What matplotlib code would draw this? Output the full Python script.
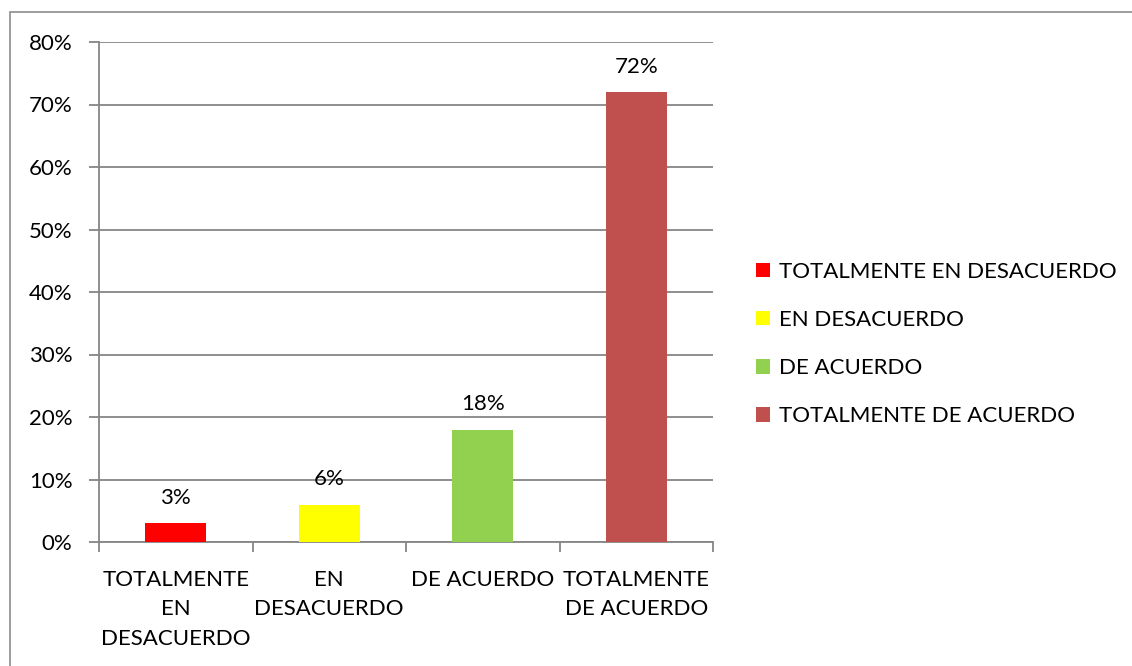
import matplotlib.pyplot as plt
from matplotlib.patches import Rectangle, Patch
from matplotlib.ticker import FixedLocator, PercentFormatter

# datos
categorias = ["TOTALMENTE EN DESACUERDO", "EN DESACUERDO", "DE ACUERDO", "TOTALMENTE DE ACUERDO"]
etiquetas_x = ["TOTALMENTE\nEN\nDESACUERDO", "EN\nDESACUERDO", "DE ACUERDO", "TOTALMENTE\nDE ACUERDO"]
porcentajes = [3, 6, 18, 72]
colores = ["#FF0000", "#FFFF00", "#92D050", "#C0504D"]

plt.rcParams['font.family'] = ['Lato', 'DejaVu Sans']
gris = "#868686"
fs = 16

fig = plt.figure(figsize=(11.32, 6.66), dpi=100)
ax = fig.add_axes([99 / 1132, 1 - 542 / 666, 614 / 1132, 500 / 666])

x = list(range(len(porcentajes)))
barras = ax.bar(x, porcentajes, width=0.4, color=colores, zorder=3)
for xi, v in zip(x, porcentajes):
    ax.annotate(f"{v}%", (xi, v), xytext=(0, 11), textcoords="offset points",
                ha="center", va="bottom", fontsize=fs)

ax.set_xlim(-0.5, len(porcentajes) - 0.5)
ax.set_ylim(0, 80)
ax.set_yticks(range(0, 81, 10))
ax.yaxis.set_major_formatter(PercentFormatter(decimals=0))
ax.set_xticks(x)
ax.set_xticklabels(etiquetas_x, linespacing=1.6)
ax.xaxis.set_minor_locator(FixedLocator([i - 0.5 for i in range(len(porcentajes) + 1)]))

ax.tick_params(axis="x", which="major", length=0, pad=20, labelsize=fs)
ax.tick_params(axis="x", which="minor", length=7, width=1.3, color=gris)
ax.tick_params(axis="y", length=7, width=1.3, color=gris, labelsize=fs, pad=12)

ax.yaxis.grid(True, color=gris, linewidth=1.3, zorder=0)
for lado in ["top", "right"]:
    ax.spines[lado].set_visible(False)
for lado in ["left", "bottom"]:
    ax.spines[lado].set_color(gris)
    ax.spines[lado].set_linewidth(1.3)

handles = [Patch(facecolor=c, edgecolor="none") for c in colores]
fig.legend(handles, categorias, loc="center left", bbox_to_anchor=(736 / 1132, 1 - 344 / 666),
           frameon=False, fontsize=fs, handlelength=0.63, handleheight=0.63,
           handletextpad=0.4, labelspacing=1.27)

# marco exterior
fig.patches.append(Rectangle((10 / 1132, -0.1), 1.2, (666 - 12) / 666 + 0.1,
                             transform=fig.transFigure, fill=False,
                             edgecolor="#8c8c8c", linewidth=1.2))

fig.savefig("out.png", dpi=100)
